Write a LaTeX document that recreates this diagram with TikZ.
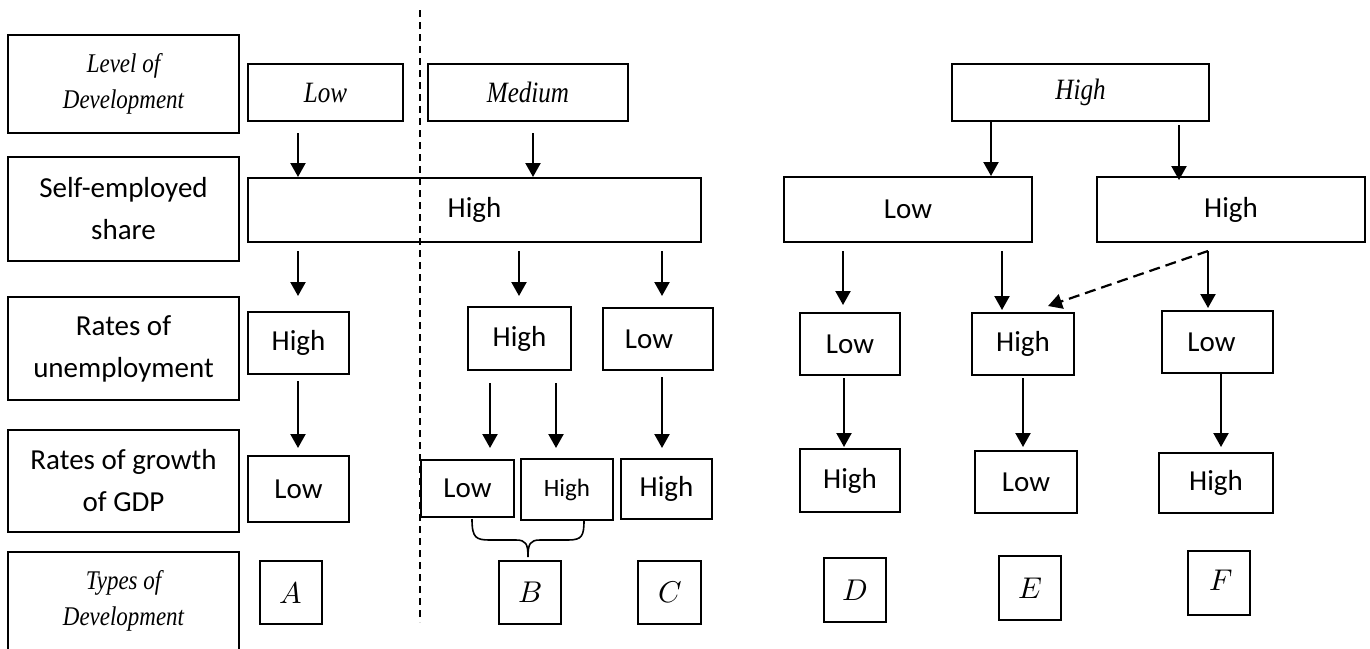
\documentclass[tikz,border=0pt]{standalone}
\usepackage{fontspec}
\newfontfamily\carl{Carlito}
\newfontfamily\garit{Liberation Serif Italic}[FakeStretch=0.85]
\newfontfamily\lmmath{latinmodern-math.otf}
\usetikzlibrary{arrows.meta}
\begin{document}
\begin{tikzpicture}[x=1pt,y=-1pt,
  box/.style={draw, line width=2pt, inner sep=0pt, align=center},
  sans/.style={font=\carl\fontsize{29}{42}\selectfont},
  ital/.style={font=\garit\fontsize{27}{36}\selectfont},
  itlev/.style={font=\garit\fontsize{29.5}{32}\selectfont},
  letter/.style={font=\lmmath\fontsize{30}{32}\selectfont},
  arr/.style={line width=2.2pt, -{Triangle[length=14pt,width=15pt]}},
  dasharr/.style={arr, dash pattern=on 11pt off 6pt},
  divider/.style={line width=1.6pt, dash pattern=on 7pt off 5pt},
  bracestyle/.style={line width=1.6pt}]
\useasboundingbox (0,0) rectangle (1370,648);
\clip (0,0) rectangle (1370,648);

% row labels
\node[box, ital, minimum width=231, minimum height=98] (lvl) at (123.5,84) {Level of\\Development};
\node[box, sans, minimum width=231, minimum height=104] (se) at (123.5,209) {Self-employed\\share};
\node[box, sans, minimum width=231, minimum height=103] (ru) at (123.5,348.5) {Rates of\\unemployment};
\node[box, sans, minimum width=231, minimum height=102] (rg) at (123.5,481) {Rates of growth\\of GDP};
\node[box, minimum width=231, minimum height=148] (td) at (123.5,626) {};
\node[ital, align=center] (tdtext) at (123.5,601) {Types of\\Development};

% level of development
\node[box, itlev, minimum width=155, minimum height=57] (low) at (325.5,92.5) {Low};
\node[box, itlev, minimum width=200, minimum height=57] (med) at (528,92.5) {Medium};
\node[box, itlev, minimum width=257, minimum height=57] (high) at (1080.5,92.5) {High};

% self-employed share
\node[box, sans, minimum width=453, minimum height=64] (seH1) at (474.5,210) {High};
\node[box, sans, minimum width=248, minimum height=65] (seL) at (908,209.5) {Low};
\node[box, sans, minimum width=268, minimum height=65] (seH2) at (1231,209.5) {High};

% unemployment
\node[box, sans, minimum width=101, minimum height=62] (uA) at (298.5,343) {High};
\node[box, sans, minimum width=103, minimum height=63] (uB) at (519.5,338.5) {High};
\node[box, sans, minimum width=110, minimum height=62] (uC) at (658,339) {Low\hspace*{18pt}};
\node[box, sans, minimum width=100, minimum height=62] (uD) at (850,344) {Low};
\node[box, sans, minimum width=102, minimum height=62] (uE) at (1023,344) {High};
\node[box, sans, minimum width=111, minimum height=62] (uF) at (1217.5,342) {Low\hspace*{12pt}};

% growth of GDP
\node[box, sans, minimum width=101, minimum height=66] (gA) at (298.5,489) {Low};
\node[box, sans, minimum width=93, minimum height=57] (gB1) at (467.5,488.5) {Low};
\node[box, font=\carl\fontsize{25}{30}\selectfont, minimum width=92, minimum height=61] (gB2) at (567,489.5) {High};
\node[box, sans, minimum width=91, minimum height=60] (gC) at (666.5,489) {High};
\node[box, sans, minimum width=100, minimum height=63] (gD) at (850,480.5) {High};
\node[box, sans, minimum width=102, minimum height=62] (gE) at (1026,482) {Low};
\node[box, sans, minimum width=114, minimum height=60] (gF) at (1216,483) {High};

% types
\node[box, letter, minimum width=62, minimum height=63] (tA) at (291,592.5) {𝐴};
\node[box, letter, minimum width=62, minimum height=63] (tB) at (530,592.5) {𝐵};
\node[box, letter, minimum width=63, minimum height=63] (tC) at (669.5,592.5) {𝐶};
\node[box, letter, minimum width=62, minimum height=64] (tD) at (855,590) {𝐷};
\node[box, letter, minimum width=62, minimum height=64] (tE) at (1030,588) {𝐸};
\node[box, letter, minimum width=62, minimum height=64] (tF) at (1219,583) {\raisebox{6pt}{𝐹}};

% divider
\coordinate (divtop) at (420,10);
\coordinate (divbot) at (420,622);
\draw[divider] (divtop) -- (divbot);

% arrows level -> self-employed
\coordinate (a1) at (298,133);
\coordinate (a2) at (533,133);
\coordinate (a3) at (991,121);
\coordinate (a4) at (1179,125);
\draw[arr] (a1) -- (a1 |- seH1.north);
\draw[arr] (a2) -- (a2 |- seH1.north);
\draw[arr] (a3) -- (a3 |- seL.north);
\draw[arr] (a4) -- ([yshift=-4pt]a4 |- seH2.north);

% arrows self-employed -> unemployment
\coordinate (b1s) at (298,251); \coordinate (b1e) at (298,296);
\coordinate (b2s) at (519,251); \coordinate (b2e) at (519,296);
\coordinate (b3s) at (662,251); \coordinate (b3e) at (662,296);
\coordinate (b4s) at (843,251); \coordinate (b4e) at (843,305);
\coordinate (b5s) at (1002,251); \coordinate (b5e) at (1002,310);
\coordinate (b6s) at (1208,251); \coordinate (b6e) at (1208,308);
\coordinate (b7e) at (1048,306);
\draw[arr] (b1s) -- (b1e);
\draw[arr] (b2s) -- (b2e);
\draw[arr] (b3s) -- (b3e);
\draw[arr] (b4s) -- (b4e);
\draw[arr] (b5s) -- (b5e);
\draw[arr] (b6s) -- (b6e);
\draw[dasharr] (b6s) -- (b7e);

% arrows unemployment -> growth
\coordinate (c1s) at (298,381); \coordinate (c1e) at (298,448);
\coordinate (c2s) at (490,383); \coordinate (c2e) at (490,448);
\coordinate (c3s) at (556,383); \coordinate (c3e) at (556,448);
\coordinate (c4s) at (662,377); \coordinate (c4e) at (662,448);
\coordinate (c5s) at (844,378); \coordinate (c5e) at (844,447);
\coordinate (c6s) at (1023,378); \coordinate (c6e) at (1023,447);
\coordinate (c7s) at (1221,373); \coordinate (c7e) at (1221,447);
\draw[arr] (c1s) -- (c1e);
\draw[arr] (c2s) -- (c2e);
\draw[arr] (c3s) -- (c3e);
\draw[arr] (c4s) -- (c4e);
\draw[arr] (c5s) -- (c5e);
\draw[arr] (c6s) -- (c6e);
\draw[arr] (c7s) -- (c7e);

% brace
\draw[bracestyle] (472,519) .. controls (472,538) and (476,540) .. (490,540)
  -- (516,540) .. controls (526,540) and (528,544) .. (528,557)
  .. controls (528,544) and (530,540) .. (540,540)
  -- (568,540) .. controls (582,540) and (584,536) .. (584,520);
\end{tikzpicture}
\end{document}
